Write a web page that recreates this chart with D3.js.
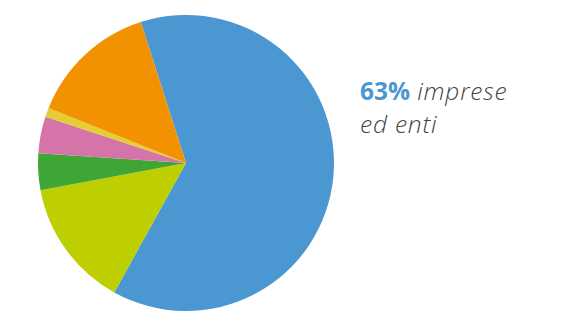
<!DOCTYPE html>
<html>
<head>
<meta charset="utf-8">
<script src="https://cdn.jsdelivr.net/npm/d3@7"></script>
<style>
  body { margin: 0; background: #fff; }
  svg { display: block; }
</style>
</head>
<body>
<svg id="chart"></svg>
<script>
var labels = ['imprese ed enti', 'b', 'c', 'd', 'e', 'f'];
var values = [63, 14, 4, 4, 1, 14];
var colors = ['#4a97d2', '#bdcf00', '#3fa535', '#d574a8', '#e6cd33', '#f39200'];

var width = 575, height = 312;

var svg = d3.select('#chart')
    .attr('width', width)
    .attr('height', height);

var cx = 186, cy = 163, r = 148;
var start = -17.8 * Math.PI / 180;

var pie = d3.pie()
    .sort(null)
    .startAngle(start)
    .endAngle(start + 2 * Math.PI);

var arc = d3.arc()
    .innerRadius(0)
    .outerRadius(r);

var g = svg.append('g')
    .attr('transform', 'translate(' + cx + ',' + cy + ')');

g.selectAll('path')
    .data(pie(values))
    .enter().append('path')
    .attr('d', arc)
    .attr('fill', function(d, i) { return colors[i]; });

// label on the right
var font = '"Open Sans", Lato, sans-serif';

var txt = svg.append('text')
    .attr('x', 360)
    .attr('y', 100)
    .style('font-family', font)
    .style('font-size', '24.5px');

txt.append('tspan')
    .attr('fill', colors[0])
    .style('font-weight', 700)
    .text(values[0] + '%');

txt.append('tspan')
    .attr('fill', '#444')
    .style('font-style', 'italic')
    .style('font-weight', 300)
    .style('letter-spacing', '0.8px')
    .text(' imprese');

svg.append('text')
    .attr('x', 360)
    .attr('y', 133)
    .attr('fill', '#444')
    .style('font-family', font)
    .style('font-size', '24.5px')
    .style('font-style', 'italic')
    .style('font-weight', 300)
    .style('letter-spacing', '0.8px')
    .text('ed enti');
</script>
</body>
</html>
